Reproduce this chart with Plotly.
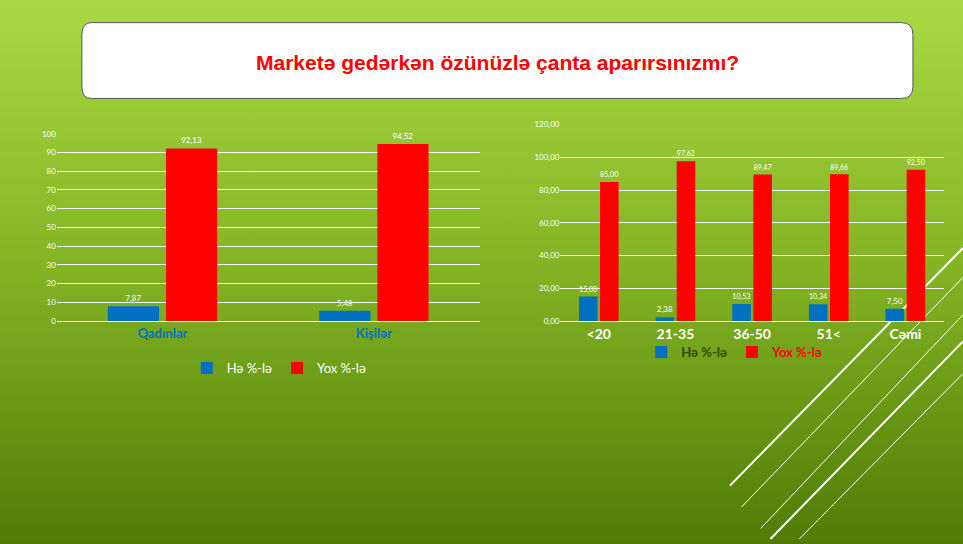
import base64
import plotly.graph_objects as go

gender = ["Qadınlar", "Kişilər"]
gender_yes = [7.87, 5.48]
gender_no = [92.13, 94.52]

ages = ["<20", "21-35", "36-50", "51<", "Cəmi"]
age_yes = [15.00, 2.38, 10.53, 10.34, 7.50]
age_no = [85.00, 97.62, 89.47, 89.66, 92.50]

BLUE = "#0070c0"
RED = "#ff0000"
FONT = "Lato"


def comma(v):
    return f"{v:.2f}".replace(".", ",")


svg = ('<svg xmlns="http://www.w3.org/2000/svg" width="963" height="544" '
       'viewBox="0 0 963 544" preserveAspectRatio="none">'
       '<defs><linearGradient id="g" x1="0" y1="0" x2="0" y2="1">'
       '<stop offset="0" stop-color="#abdb44"/><stop offset="0.5" stop-color="#82b324"/>'
       '<stop offset="1" stop-color="#4d7a05"/></linearGradient></defs>'
       '<rect width="963" height="544" fill="url(#g)"/></svg>')
bg = "data:image/svg+xml;base64," + base64.b64encode(svg.encode()).decode()

fig = go.Figure()
fig.add_trace(go.Bar(x=gender, y=gender_yes, name="Hə %-lə", marker_color=BLUE,
                     text=[comma(v) for v in gender_yes], textposition="outside",
                     legend="legend", xaxis="x", yaxis="y"))
fig.add_trace(go.Bar(x=gender, y=gender_no, name="Yox %-lə", marker_color=RED,
                     text=[comma(v) for v in gender_no], textposition="outside",
                     legend="legend", xaxis="x", yaxis="y"))
fig.add_trace(go.Bar(x=ages, y=age_yes, name="<span style='color:#2d4a05'><b>Hə %-lə</b></span>",
                     marker_color=BLUE, text=[comma(v) for v in age_yes], textposition="outside",
                     legend="legend2", xaxis="x2", yaxis="y2"))
fig.add_trace(go.Bar(x=ages, y=age_no, name="<span style='color:#ff0000'><b>Yox %-lə</b></span>",
                     marker_color=RED, text=[comma(v) for v in age_no], textposition="outside",
                     legend="legend2", xaxis="x2", yaxis="y2"))
fig.update_traces(textfont=dict(color="white", size=8, family=FONT), cliponaxis=False,
                  marker_line_width=0)

grid = dict(showgrid=True, gridcolor="white", gridwidth=1.2, zeroline=False,
            tickfont=dict(color="white", size=8, family=FONT), fixedrange=True)

fig.update_layout(
    width=963, height=544, margin=dict(l=0, r=0, t=0, b=0),
    paper_bgcolor="#86b52a", plot_bgcolor="rgba(0,0,0,0)",
    barmode="group", bargap=0.45, bargroupgap=0.12,
    showlegend=True,
    xaxis=dict(domain=[0.059, 0.498], anchor="y", showline=True, linecolor="white",
               tickfont=dict(color=BLUE, size=13, family=FONT, weight="bold")),
    yaxis=dict(domain=[0.408, 0.759], anchor="x", range=[0, 100], dtick=10, **grid),
    xaxis2=dict(domain=[0.582, 0.980], anchor="y2", showline=True, linecolor="white",
                tickfont=dict(color="white", size=14, family=FONT, weight="bold")),
    yaxis2=dict(domain=[0.408, 0.776], anchor="x2", range=[0, 120], dtick=20,
                tickformat=".2f", **grid),
    separators=",.",
    legend=dict(orientation="h", x=0.29, y=0.32, xanchor="center", yanchor="middle",
                font=dict(color="white", size=13, family=FONT), bgcolor="rgba(0,0,0,0)",
                itemwidth=30),
    legend2=dict(orientation="h", x=0.763, y=0.35, xanchor="center", yanchor="middle",
                 font=dict(size=13, family=FONT), bgcolor="rgba(0,0,0,0)", itemwidth=30),
    images=[dict(source=bg, xref="paper", yref="paper", x=-0.02, y=1.03, sizex=1.04,
                 sizey=1.06, sizing="stretch", layer="below")],
)

# title box
fig.add_shape(type="path", xref="paper", yref="paper", layer="above",
              path="M 0.095 0.967 L 0.936 0.967 Q 0.948 0.967 0.948 0.945 L 0.948 0.847 "
                   "Q 0.948 0.825 0.936 0.825 L 0.095 0.825 Q 0.085 0.825 0.085 0.847 "
                   "L 0.085 0.945 Q 0.085 0.967 0.095 0.967 Z",
              fillcolor="white", line=dict(color="#555555", width=1))
fig.add_annotation(text="<b>Marketə gedərkən özünüzlə çanta aparırsınızmı?</b>",
                   xref="paper", yref="paper", x=0.517, y=0.892, yanchor="middle",
                   showarrow=False,
                   font=dict(color="#ff0000", size=21, family="Liberation Sans"))

# decorative diagonal lines
for x0, y0, x1, y1, w in [(0.758, 0.10, 1.0, 0.545, 2), (0.80, 0.0, 1.0, 0.37, 2),
                          (0.77, 0.06, 1.0, 0.49, 1), (0.79, 0.02, 1.0, 0.42, 1),
                          (0.83, 0.0, 1.0, 0.31, 1)]:
    fig.add_shape(type="line", xref="paper", yref="paper", x0=x0, y0=y0, x1=x1, y1=y1,
                  line=dict(color="white", width=w), layer="below")

fig.write_html("out.html", config={"displayModeBar": False},
               post_script="document.body.style.margin='0';document.body.style.overflow='hidden';")
